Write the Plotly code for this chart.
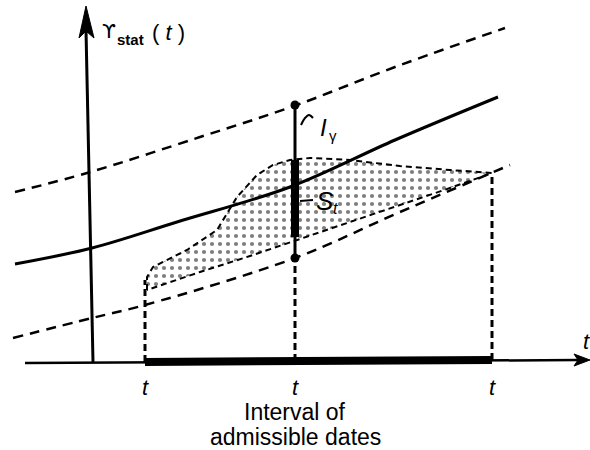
import plotly.graph_objects as go

# ---- data (x = horizontal position, y = vertical position, screen units, y downward) ----
upper_x = [15, 87, 200, 294, 395, 505]
upper_y = [192, 173, 137, 106, 67, 28]

trend_x = [15, 92, 177, 290, 395, 498]
trend_y = [264, 248, 222, 187, 140, 97]

lower_x = [13, 92, 145, 295, 400, 510]
lower_y = [338, 318, 305, 258, 212, 165]

region_upper_x = [147, 147, 153, 187, 217, 237, 257, 273, 290, 310, 350, 400, 450, 492]
region_upper_y = [290, 277, 267, 250, 230, 197, 175, 165, 160, 158, 160, 166, 170, 173]
region_lower_x = [492, 450, 400, 350, 295, 250, 200, 160, 147]
region_lower_y = [173, 188, 205, 222, 240, 256, 272, 285, 290]

t_marks = [145, 295, 492]
t_labels = ["t", "t", "t"]
axis_y = [362, 361, 360]
vert_top = [280, 258, 173]

bar_x = 295
bar_ends = [105, 258]
bar_core = [160, 237]

yaxis_line_x = [86, 93]
yaxis_line_y = [30, 362]
xaxis_line_x = [25, 578]
xaxis_line_y = [363, 360]
interval_x = [145, 492]
interval_y = [362, 360]

y_arrow_x = [86, 79, 86, 94, 86]
y_arrow_y = [6, 38, 31, 38, 6]
x_arrow_x = [590, 574, 578, 574, 590]
x_arrow_y = [360, 354, 360, 366, 360]

hook_x = [301, 305, 309, 313]
hook_y = [125, 118, 115, 118]
s_lead_x = [300, 313]
s_lead_y = [201, 200]

fig = go.Figure()

# stippled region S_t
fig.add_trace(go.Scatter(
    x=region_upper_x + region_lower_x,
    y=region_upper_y + region_lower_y,
    mode="lines", fill="toself", fillcolor="white",
    fillpattern=dict(shape=".", fgcolor="black", bgcolor="white", size=8, solidity=0.22),
    line=dict(color="black", width=2, dash="6px,4px"), hoverinfo="skip"))

# confidence bands
for xs, ys in [(upper_x, upper_y), (lower_x, lower_y)]:
    fig.add_trace(go.Scatter(x=xs, y=ys, mode="lines", line_shape="spline",
                             line=dict(color="black", width=2.5, dash="10px,7px"), hoverinfo="skip"))
# trend
fig.add_trace(go.Scatter(x=trend_x, y=trend_y, mode="lines", line_shape="spline",
                         line=dict(color="black", width=3), hoverinfo="skip"))

# vertical dashed lines
for xm, ya, yt in zip(t_marks, axis_y, vert_top):
    fig.add_trace(go.Scatter(x=[xm, xm], y=[ya, yt], mode="lines",
                             line=dict(color="black", width=3, dash="7px,4px"), hoverinfo="skip"))

# interval bar I_gamma
fig.add_trace(go.Scatter(x=[bar_x, bar_x], y=bar_ends, mode="lines+markers",
                         line=dict(color="black", width=3), marker=dict(size=9, color="black"),
                         hoverinfo="skip"))
fig.add_trace(go.Scatter(x=[bar_x, bar_x], y=bar_core, mode="lines",
                         line=dict(color="black", width=8), hoverinfo="skip"))

# axes
fig.add_trace(go.Scatter(x=yaxis_line_x, y=yaxis_line_y, mode="lines",
                         line=dict(color="black", width=3), hoverinfo="skip"))
fig.add_trace(go.Scatter(x=xaxis_line_x, y=xaxis_line_y, mode="lines",
                         line=dict(color="black", width=2.5), hoverinfo="skip"))
fig.add_trace(go.Scatter(x=interval_x, y=interval_y, mode="lines",
                         line=dict(color="black", width=8), hoverinfo="skip"))
for xs, ys in [(y_arrow_x, y_arrow_y), (x_arrow_x, x_arrow_y)]:
    fig.add_trace(go.Scatter(x=xs, y=ys, mode="lines", fill="toself", fillcolor="black",
                             line=dict(color="black", width=1), hoverinfo="skip"))

# leaders
fig.add_trace(go.Scatter(x=hook_x, y=hook_y, mode="lines", line_shape="spline",
                         line=dict(color="black", width=2), hoverinfo="skip"))
fig.add_trace(go.Scatter(x=s_lead_x, y=s_lead_y, mode="lines",
                         line=dict(color="black", width=2), hoverinfo="skip"))

font = "Liberation Sans, Arial, sans-serif"
def f(size, family=font):
    return dict(size=size, family=family, color="black")

ann = []
for xm, lab in zip(t_marks, t_labels):
    ann.append(dict(x=xm, y=387, text=f"<i>{lab}</i>", showarrow=False, font=f(22)))
ann += [
    dict(x=581, y=341, text="<i>t</i>", showarrow=False, xanchor="left", font=f(22)),
    dict(x=295, y=412, text="Interval of", showarrow=False, font=f(23)),
    dict(x=295, y=437, text="admissible dates", showarrow=False, font=f(23)),
    dict(x=100, y=31, text="ϒ", showarrow=False, xanchor="left", font=f(20, "DejaVu Sans")),
    dict(x=115, y=39, text="<b>stat</b>", showarrow=False, xanchor="left", font=f(15)),
    dict(x=150, y=32, text="( <i>t</i> )", showarrow=False, xanchor="left", font=f(22)),
    dict(x=318, y=127, text="<i>I</i>", showarrow=False, xanchor="left", font=f(24)),
    dict(x=327, y=135, text="γ", showarrow=False, xanchor="left", font=f(15)),
    dict(x=314, y=201, text="<i>S</i>", showarrow=False, xanchor="left", font=f(26)),
    dict(x=331, y=208, text="<i>t</i>", showarrow=False, xanchor="left", font=f(16)),
]

fig.update_layout(
    width=590, height=450, margin=dict(l=0, r=0, t=0, b=0),
    paper_bgcolor="white", plot_bgcolor="white", showlegend=False,
    xaxis=dict(range=[0, 590], visible=False, fixedrange=True),
    yaxis=dict(range=[450, 0], visible=False, fixedrange=True),
    annotations=ann,
)

fig.write_html("out.html", config={"displayModeBar": False},
               post_script="document.body.style.margin='0';document.body.style.overflow='hidden';")
